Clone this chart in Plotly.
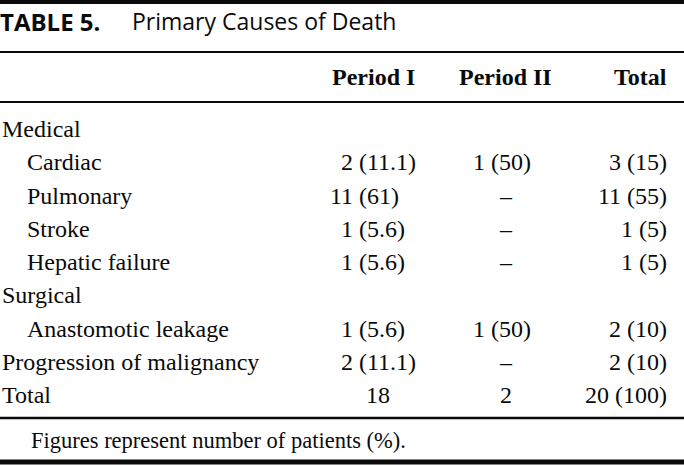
import plotly.graph_objects as go

# ---------------- data ----------------
title_label = "TABLE 5."
title_text = "Primary Causes of Death"
col_headers = ["Period I", "Period II", "Total"]
row_labels = ["Medical", "Cardiac", "Pulmonary", "Stroke", "Hepatic failure",
              "Surgical", "Anastomotic leakage", "Progression of malignancy", "Total"]
row_indent = [0, 1, 1, 1, 1, 0, 1, 0, 0]
period1 = ["", "2 (11.1)", "11 (61)", "1 (5.6)", "1 (5.6)", "", "1 (5.6)", "2 (11.1)", "18"]
period2 = ["", "1 (50)", "–", "–", "–", "", "1 (50)", "–", "2"]
total = ["", "3 (15)", "11 (55)", "1 (5)", "1 (5)", "", "2 (10)", "2 (10)", "20 (100)"]
footnote = "Figures represent number of patients (%)."

# ---------------- layout constants ----------------
W, H = 684, 465
SERIF = "Liberation Serif"
SANS = "Open Sans"
BODY = 24
INK = "#0a0a0a"

row_y0 = 129.0
row_step = 33.25
label_x = 2
indent_x = 27
columns = [
    dict(values=period1, mode="paren", paren_x=359, center_x=378, header_x=373),
    dict(values=period2, mode="paren", paren_x=491, center_x=506, header_x=505),
    dict(values=total, mode="right", right_x=667, header_x=667),
]

ann = []


def add(text, x, y, xanchor, size=BODY, family=SERIF, bold=False):
    ann.append(dict(
        text=f"<b>{text}</b>" if bold else text,
        x=x, y=y, xref="x", yref="y", xanchor=xanchor, yanchor="middle",
        showarrow=False, borderpad=0, borderwidth=0,
        font=dict(family=family, size=size, color=INK),
    ))


# title
add(title_label, 0, 21, "left", size=24, family=SANS, bold=True)
add(title_text, 132, 21, "left", size=23, family=SANS)

# headers
header_y = 77
for col, h in zip(columns, col_headers):
    if col["mode"] == "right":
        add(h, col["header_x"], header_y, "right", bold=True)
    else:
        add(h, col["header_x"], header_y, "center", bold=True)

# rows
for i, lab in enumerate(row_labels):
    y = row_y0 + i * row_step
    add(lab, indent_x if row_indent[i] else label_x, y, "left")
    for col in columns:
        v = col["values"][i]
        if not v:
            continue
        if col["mode"] == "right":
            add(v, col["right_x"], y, "right")
        elif " (" in v:
            num, rest = v.split(" (", 1)
            add(num, col["paren_x"] - 6, y, "right")
            add("(" + rest, col["paren_x"], y, "left")
        else:
            add(v, col["center_x"], y, "center")

# footnote
add(footnote, 31, 440, "left", size=22.5)

# rules
shapes = []
for y, w in [(2, 4), (52, 2), (102, 2), (418, 2.5), (462, 5)]:
    shapes.append(dict(type="line", xref="x", yref="y", x0=0, x1=W, y0=y, y1=y,
                       line=dict(color=INK, width=w)))

fig = go.Figure()
fig.update_layout(
    width=W, height=H,
    margin=dict(l=0, r=0, t=0, b=0),
    paper_bgcolor="white", plot_bgcolor="white",
    xaxis=dict(range=[0, W], visible=False, fixedrange=True),
    yaxis=dict(range=[H, 0], visible=False, fixedrange=True),
    annotations=ann, shapes=shapes, showlegend=False,
)
fig.write_html("out.html", config={"displayModeBar": False},
               post_script="document.body.style.margin='0';document.body.style.overflow='hidden';")
